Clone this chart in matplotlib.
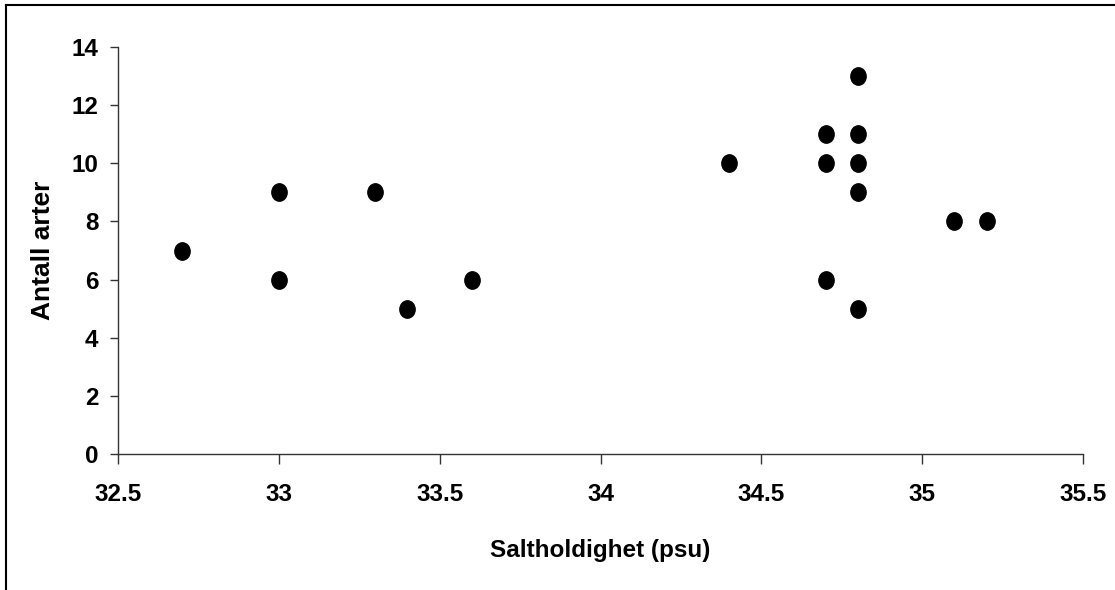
import numpy as np
import matplotlib
matplotlib.use('Agg')
import matplotlib.pyplot as plt
from matplotlib.path import Path
from matplotlib.transforms import Affine2D
from matplotlib.lines import Line2D

# Salinity (psu) vs number of species
salinity = [32.7, 33.0, 33.0, 33.3, 33.4, 33.6, 34.4, 34.7, 34.7, 34.7,
            34.8, 34.8, 34.8, 34.8, 34.8, 35.1, 35.2]
species = [7, 9, 6, 9, 5, 6, 10, 11, 10, 6,
           13, 11, 10, 9, 5, 8, 8]

x_ticks = [32.5, 33, 33.5, 34, 34.5, 35, 35.5]
x_labels = ['32.5', '33', '33.5', '34', '34.5', '35', '35.5']
y_ticks = [0, 2, 4, 6, 8, 10, 12, 14]

plt.rcParams['font.family'] = ['Liberation Sans', 'DejaVu Sans']
plt.rcParams['font.weight'] = 'bold'

fig = plt.figure(figsize=(11.15, 5.90), dpi=100)
ax = fig.add_axes([118 / 1115, 1 - 454 / 590, (1083 - 118) / 1115, (454 - 47) / 590])

# slightly tall ellipse marker, like the original
ellipse = Path.unit_circle().transformed(Affine2D().scale(0.88, 1.0))
ax.plot(salinity, species, linestyle='none', marker=ellipse,
        markersize=12.5, color='black')

ax.set_xlim(32.5, 35.5)
ax.set_ylim(0, 14)
ax.set_xticks(x_ticks)
ax.set_xticklabels(x_labels)
ax.set_yticks(y_ticks)

for side in ['top', 'right']:
    ax.spines[side].set_visible(False)
for side in ['left', 'bottom']:
    ax.spines[side].set_color('#333333')
    ax.spines[side].set_linewidth(1.0)

ax.tick_params(axis='x', direction='out', length=7, width=1, color='#333333',
               labelsize=17.5, pad=14)
ax.tick_params(axis='y', direction='out', length=6, width=1, color='#333333',
               labelsize=17.5, pad=8)

ax.set_xlabel('Saltholdighet (psu)', fontsize=17.5, fontweight='bold', labelpad=24)
ax.set_ylabel('Antall arter', fontsize=19, fontweight='bold', labelpad=12)

# frame lines on top and left edge of the picture
fig.add_artist(Line2D([6 / 1115, 1], [1 - 5 / 590, 1 - 5 / 590],
                      transform=fig.transFigure, color='black', lw=1.5))
fig.add_artist(Line2D([6 / 1115, 6 / 1115], [0, 1 - 5 / 590],
                      transform=fig.transFigure, color='black', lw=1.5))

fig.savefig('out.png', dpi=100, facecolor='white')
